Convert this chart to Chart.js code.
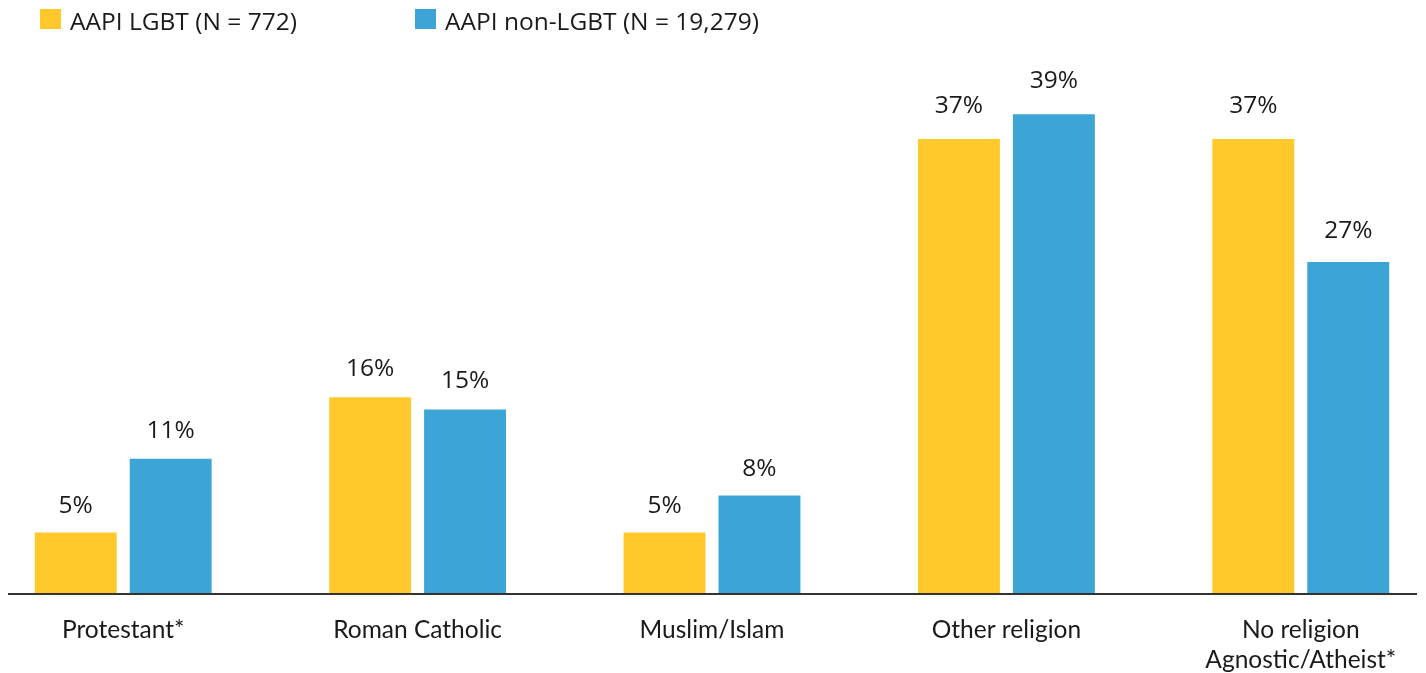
<!DOCTYPE html>
<html>
<head>
<meta charset="utf-8">
<script src="https://cdn.jsdelivr.net/npm/chart.js@4/dist/chart.umd.min.js"></script>
<style>
  html, body { margin: 0; padding: 0; background: #ffffff; }
  body { width: 1426px; height: 673px; position: relative; overflow: hidden; }
  #legend { position: absolute; left: 0; top: 0; width: 1426px; height: 40px; font-family: "Open Sans", sans-serif; font-size: 24.5px; color: #1a1a1a; z-index: 2; }
  .item { position: absolute; top: 0; height: 40px; display: flex; align-items: center; white-space: nowrap; }
  .box { width: 21px; height: 20px; margin-right: 9px; margin-top: -2px; }
  #wrap { position: absolute; left: -24px; top: 0; width: 1472px; height: 673px; }
</style>
</head>
<body>
<div id="legend"></div>
<div id="wrap"><canvas id="c"></canvas></div>
<script>
const categories = ['Protestant*', 'Roman Catholic', 'Muslim/Islam', 'Other religion', ['No religion', 'Agnostic/Atheist*']];
const seriesNames = ['AAPI LGBT (N = 772)', 'AAPI non-LGBT (N = 19,279)'];
const lgbtValues = [5, 16, 5, 37, 37];
const nonLgbtValues = [11, 15, 8, 39, 27];
const seriesColors = ['#FFC92B', '#3CA5D5'];

// HTML legend
const legend = document.getElementById('legend');
const legendLefts = [40, 415];
seriesNames.forEach((n, i) => {
  const it = document.createElement('div');
  it.className = 'item';
  it.style.left = legendLefts[i] + 'px';
  const b = document.createElement('div');
  b.className = 'box';
  b.style.background = seriesColors[i];
  const t = document.createElement('span');
  t.textContent = n;
  it.appendChild(b); it.appendChild(t);
  legend.appendChild(it);
});

const valueLabels = {
  id: 'valueLabels',
  afterDatasetsDraw(chart) {
    const ctx = chart.ctx;
    ctx.save();
    ctx.font = '24.5px "Open Sans", sans-serif';
    ctx.fillStyle = '#1a1a1a';
    ctx.textAlign = 'center';
    ctx.textBaseline = 'middle';
    chart.data.datasets.forEach((ds, di) => {
      chart.getDatasetMeta(di).data.forEach((bar, i) => {
        const v = ds.data[i];
        ctx.fillText(v + '%', bar.x, bar.y - (25.5 + 0.19 * v));
      });
    });
    ctx.restore();
  }
};

// baseline drawn across the visible page width (page x 8 .. 1417)
const baseline = {
  id: 'baseline',
  afterDatasetsDraw(chart) {
    const ctx = chart.ctx;
    const y = chart.chartArea.bottom;
    ctx.save();
    ctx.strokeStyle = '#333333';
    ctx.lineWidth = 2;
    ctx.beginPath();
    ctx.moveTo(32, y);
    ctx.lineTo(1441, y);
    ctx.stroke();
    ctx.restore();
  }
};

new Chart(document.getElementById('c'), {
  type: 'bar',
  data: {
    labels: categories,
    datasets: [
      { label: seriesNames[0], data: lgbtValues, backgroundColor: seriesColors[0] },
      { label: seriesNames[1], data: nonLgbtValues, backgroundColor: seriesColors[1] }
    ]
  },
  options: {
    responsive: true,
    maintainAspectRatio: false,
    animation: false,
    layout: { padding: { left: 0, right: 0, top: 40.5, bottom: 0 } },
    datasets: { bar: { categoryPercentage: 0.645, barPercentage: 0.863 } },
    plugins: { legend: { display: false }, tooltip: { enabled: false } },
    scales: {
      x: {
        grid: { display: false, drawTicks: false },
        border: { display: false },
        ticks: {
          padding: 21,
          color: '#1a1a1a',
          font: { family: 'Lato', size: 24.5, lineHeight: 1.23 },
          maxRotation: 0,
          autoSkip: false
        },
        afterFit(s) { s.height = 79; }
      },
      y: {
        display: false,
        min: 0,
        max: 45
      }
    }
  },
  plugins: [valueLabels, baseline]
});
</script>
</body>
</html>
